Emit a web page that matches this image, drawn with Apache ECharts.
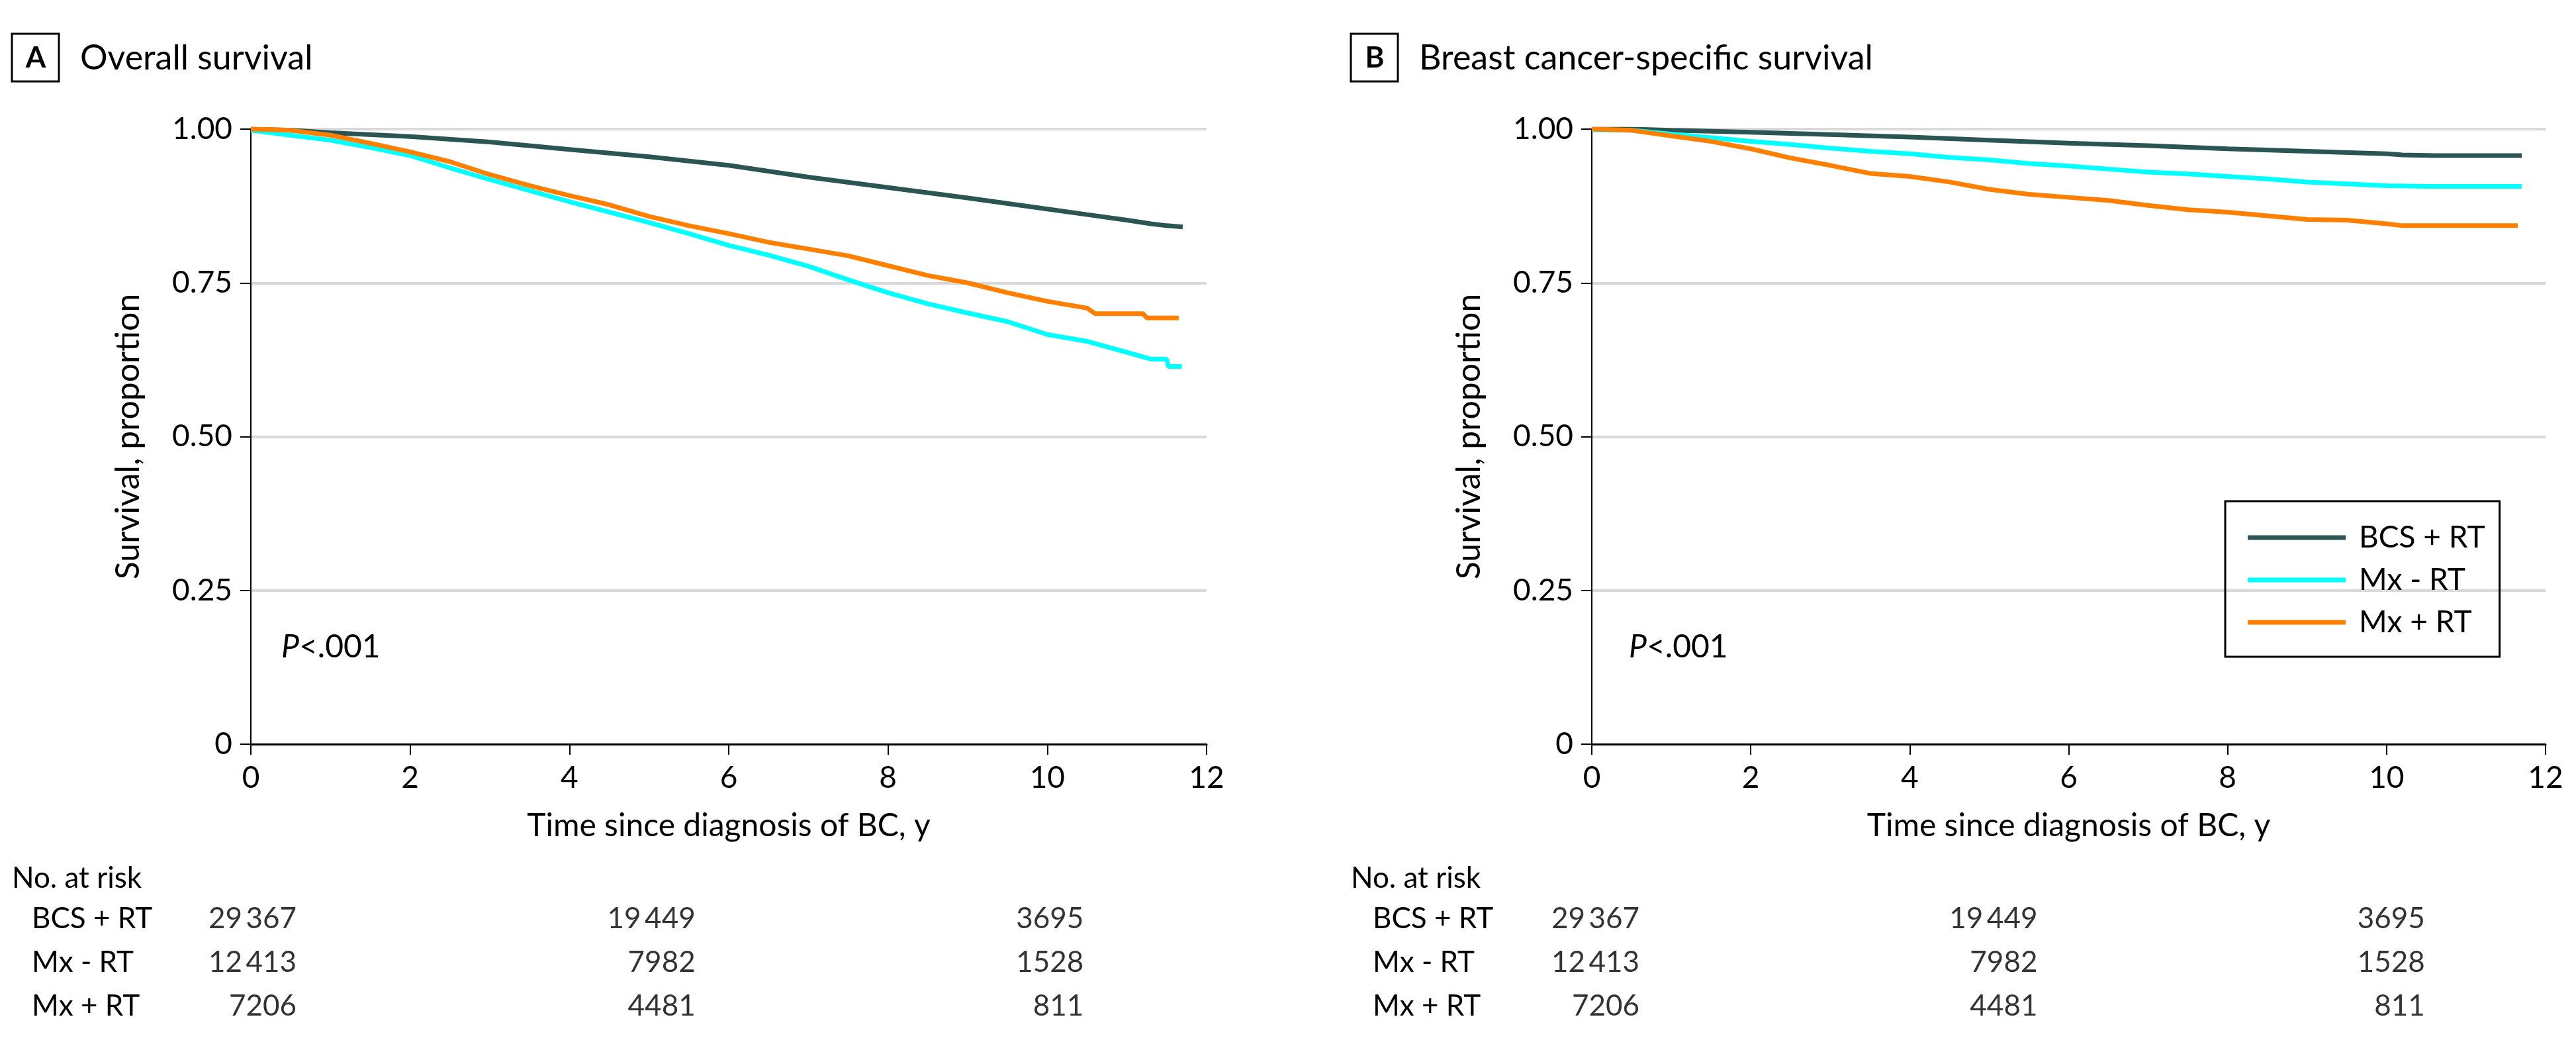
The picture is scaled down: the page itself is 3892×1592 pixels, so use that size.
<!DOCTYPE html>
<html><head><meta charset="utf-8">
<script src="https://cdn.jsdelivr.net/npm/echarts@6/dist/echarts.min.js"></script>
<style>html,body{margin:0;padding:0;background:#fff}#c{width:3892px;height:1592px}</style>
</head><body><div id="c"></div>
<script>
// ---------- data ----------
const groups = ['BCS + RT', 'Mx - RT', 'Mx + RT'];
const groupColors = ['#2A5552', '#00FFFF', '#FF8000'];
const xTicks = [0, 2, 4, 6, 8, 10, 12];
const yTicks = [0, 0.25, 0.5, 0.75, 1];
const panelTitles = ['Overall survival', 'Breast cancer-specific survival'];
const panelLetters = ['A', 'B'];
const pValueText = '<.001';

// Panel A: overall survival  [years, proportion]
const osBcsRt = [[0,1],[0.5,0.998],[1,0.994],[2,0.988],[3,0.979],[4,0.967],[5,0.955],[6,0.941],[7,0.922],[8,0.905],[9,0.888],[10,0.870],[10.5,0.861],[11,0.852],[11.3,0.846],[11.5,0.843],[11.7,0.841]];
const osMxNoRt = [[0,0.998],[0.5,0.990],[1,0.982],[1.5,0.970],[2,0.957],[2.5,0.937],[3,0.918],[3.5,0.900],[4,0.882],[4.5,0.865],[5,0.848],[5.5,0.830],[6,0.811],[6.5,0.795],[7,0.777],[7.5,0.755],[8,0.734],[8.5,0.716],[9,0.701],[9.5,0.687],[10,0.666],[10.5,0.655],[11,0.637],[11.3,0.626],[11.5,0.626],[11.52,0.614],[11.69,0.614]];
const osMxRt = [[0,1],[0.5,0.998],[1,0.990],[1.5,0.977],[2,0.963],[2.5,0.947],[3,0.926],[3.5,0.908],[4,0.892],[4.5,0.877],[5,0.858],[5.5,0.843],[6,0.830],[6.5,0.816],[7,0.805],[7.5,0.794],[8,0.778],[8.5,0.762],[9,0.750],[9.5,0.734],[10,0.720],[10.5,0.709],[10.6,0.700],[11.2,0.700],[11.25,0.693],[11.65,0.693]];

// Panel B: breast cancer-specific survival
const bcssBcsRt = [[0,1],[0.5,1],[1,0.998],[2,0.995],[3,0.991],[4,0.987],[5,0.982],[6,0.977],[7,0.973],[8,0.968],[9,0.964],[10,0.960],[10.2,0.958],[10.6,0.957],[11.7,0.957]];
const bcssMxNoRt = [[0,0.999],[0.5,0.998],[1,0.992],[1.5,0.986],[2,0.980],[2.5,0.975],[3,0.969],[3.5,0.964],[4,0.960],[4.5,0.954],[5,0.950],[5.5,0.944],[6,0.940],[6.5,0.935],[7,0.930],[7.5,0.927],[8,0.923],[8.5,0.919],[9,0.914],[9.5,0.911],[10,0.908],[10.5,0.907],[11.7,0.907]];
const bcssMxRt = [[0,1],[0.5,0.998],[1,0.989],[1.5,0.980],[2,0.968],[2.5,0.953],[3,0.941],[3.5,0.928],[4,0.923],[4.5,0.914],[5,0.902],[5.5,0.894],[6,0.889],[6.5,0.884],[7,0.876],[7.5,0.869],[8,0.865],[8.5,0.859],[9,0.853],[9.5,0.852],[10,0.846],[10.2,0.843],[11.65,0.843]];

// Number at risk
const atRiskTimes = [0, 5, 10];
const atRiskBcsRt = [29367, 19449, 3695];
const atRiskMxNoRt = [12413, 7982, 1528];
const atRiskMxRt = [7206, 4481, 811];

// ---------- chart ----------
const FONT = 'Lato';
const panels = [
  {curves: [osBcsRt, osMxNoRt, osMxRt], left: 379, width: 1444, titleBox: 18},
  {curves: [bcssBcsRt, bcssMxNoRt, bcssMxRt], left: 2405, width: 1441, titleBox: 2041}
];
const atRisk = [atRiskBcsRt, atRiskMxNoRt, atRiskMxRt];
const colOffset = [69, 70, 55];
const fmt = n => n >= 10000 ? String(n).replace(/(\d+)(\d{3})$/, '$1\u2009$2') : String(n);

const grid = [], xAxis = [], yAxis = [], series = [], graphic = [];
panels.forEach((p, pi) => {
  grid.push({left: p.left, top: 195, width: p.width, height: 929});
  xAxis.push({
    gridIndex: pi, type: 'value', min: 0, max: 12, interval: 2,
    axisLine: {show: true, onZero: false, lineStyle: {color: '#000', width: 3}},
    axisTick: {show: true, length: 16, lineStyle: {color: '#000', width: 2}},
    splitLine: {show: false},
    axisLabel: {fontSize: 46, color: '#000', margin: 28, fontFamily: FONT},
    name: 'Time since diagnosis of BC, y', nameLocation: 'middle', nameGap: 100,
    nameTextStyle: {fontSize: 48, color: '#000', fontFamily: FONT}
  });
  yAxis.push({
    gridIndex: pi, type: 'value', min: 0, max: 1, interval: 0.25,
    axisLine: {show: true, lineStyle: {color: '#000', width: 2}},
    axisTick: {show: true, length: 16, lineStyle: {color: '#000', width: 2}},
    splitLine: {show: true, lineStyle: {color: '#d9d9d9', width: 4}},
    axisLabel: {fontSize: 46, color: '#000', margin: 28, fontFamily: FONT,
      formatter: v => v === 0 ? '0' : v.toFixed(2)},
    name: 'Survival, proportion', nameLocation: 'middle', nameGap: 160,
    nameTextStyle: {fontSize: 50, color: '#000', fontFamily: FONT}
  });
  // draw order: Mx - RT, Mx + RT, BCS + RT on top
  [1, 2, 0].forEach(gi => {
    series.push({
      type: 'line', name: groups[gi], xAxisIndex: pi, yAxisIndex: pi,
      data: p.curves[gi], showSymbol: false, symbol: 'none', silent: true,
      color: groupColors[gi], lineStyle: {width: 7, color: groupColors[gi]},
      z: 3 + gi
    });
  });
});
// at-risk table grids
panels.forEach((p, pi) => {
  const gi = 2 + pi;
  grid.push({left: p.left, top: 1355, width: p.width, height: 198});
  xAxis.push({gridIndex: gi, type: 'value', min: 0, max: 12, show: false});
  yAxis.push({
    gridIndex: gi, type: 'category', data: groups, inverse: true,
    axisLine: {show: false}, axisTick: {show: false}, splitLine: {show: false},
    axisLabel: {align: 'left', margin: 331, fontSize: 44, color: '#000', fontFamily: FONT}
  });
  const data = [];
  groups.forEach((g, ri) => atRiskTimes.forEach((t, ti) => {
    data.push({value: [t, g, atRisk[ri][ti]], label: {offset: [colOffset[ti] + (pi ? 3 : 0), 0]}});
  }));
  series.push({
    type: 'scatter', xAxisIndex: gi, yAxisIndex: gi, symbolSize: 0, silent: true,
    data: data,
    label: {show: true, position: 'inside', align: 'right', verticalAlign: 'middle',
      fontSize: 44, color: '#000', fontFamily: FONT, formatter: q => fmt(q.value[2])}
  });
  // title box + title
  graphic.push({type: 'rect', shape: {x: p.titleBox, y: 51, width: 71, height: 72},
    style: {fill: 'none', stroke: '#000', lineWidth: 3}});
  graphic.push({type: 'text', x: p.titleBox + 36, y: 88,
    style: {text: panelLetters[pi], fontSize: 44, fontWeight: 'bold', fill: '#000', fontFamily: FONT,
      align: 'center', verticalAlign: 'middle'}});
  graphic.push({type: 'text', x: p.titleBox + 103, y: 88,
    style: {text: panelTitles[pi], fontSize: 52, fill: '#000', fontFamily: FONT, verticalAlign: 'middle'}});
  // P value
  graphic.push({type: 'text', x: p.left + (pi ? 56 : 46), y: 978,
    style: {text: '{i|P}' + pValueText, fontSize: 48, fill: '#000', fontFamily: FONT, verticalAlign: 'middle',
      rich: {i: {fontStyle: 'italic', fontSize: 48, fontFamily: FONT, fill: '#000'}}}});
  // No. at risk
  graphic.push({type: 'text', x: p.titleBox, y: 1327,
    style: {text: 'No. at risk', fontSize: 44, fill: '#000', fontFamily: FONT, verticalAlign: 'middle'}});
});

const chart = echarts.init(document.getElementById('c'), null, {renderer: 'canvas'});
chart.setOption({
  backgroundColor: '#fff',
  animation: false,
  textStyle: {fontFamily: FONT},
  grid, xAxis, yAxis, series, graphic,
  legend: {
    data: groups, orient: 'vertical', left: 3362, top: 757,
    borderColor: '#000', borderWidth: 3, padding: [30, 22, 27, 34],
    itemWidth: 148, itemHeight: 7, itemGap: 14, icon: 'rect', selectedMode: false,
    textStyle: {fontSize: 46, color: '#000', lineHeight: 50, fontFamily: FONT, padding: [0, 0, 0, 15]}
  }
});
</script>
</body></html>
